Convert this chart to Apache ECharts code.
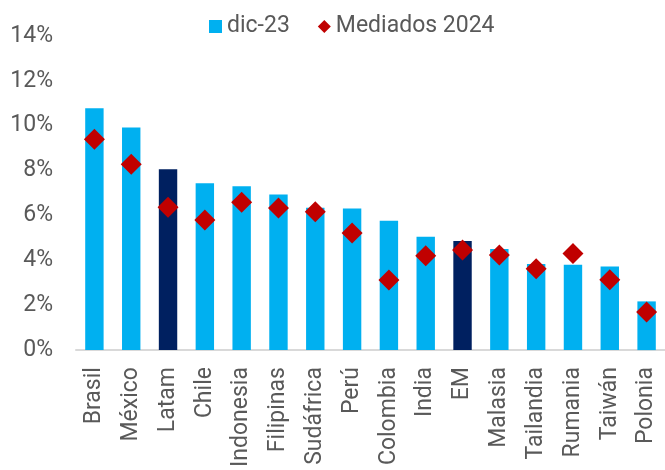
<!DOCTYPE html>
<html>
<head>
<meta charset="utf-8">
<script src="https://cdn.jsdelivr.net/npm/echarts@6/dist/echarts.min.js"></script>
<style>html,body{margin:0;padding:0;background:#fff;}#c{width:665px;height:470px;}</style>
</head>
<body>
<div id="c"></div>
<script>
const categories = ['Brasil','México','Latam','Chile','Indonesia','Filipinas','Sudáfrica','Perú','Colombia','India','EM','Malasia','Tailandia','Rumania','Taiwán','Polonia'];
const dic23 = [10.78, 9.92, 8.06, 7.44, 7.30, 6.93, 6.34, 6.31, 5.77, 5.05, 4.86, 4.51, 3.84, 3.80, 3.73, 2.17];
const mediados2024 = [9.40, 8.28, 6.37, 5.80, 6.59, 6.33, 6.17, 5.22, 3.12, 4.20, 4.46, 4.24, 3.63, 4.30, 3.14, 1.70];
const highlighted = ['Latam', 'EM'];
const yTicks = [0, 2, 4, 6, 8, 10, 12, 14];

const LIGHT = '#00B0F0', DARK = '#002060', RED = '#C00000', TXT = '#595959';
const chart = echarts.init(document.getElementById('c'), null, {renderer: 'canvas'});
chart.setOption({
  animation: false,
  textStyle: {fontFamily: 'Roboto'},
  legend: {
    top: 10, left: 204, itemGap: 28, itemWidth: 13, itemHeight: 13,
    textStyle: {fontSize: 23, color: TXT, fontFamily: 'Roboto'},
    data: [{name: 'dic-23', icon: 'rect'}, {name: 'Mediados 2024', icon: 'diamond'}]
  },
  grid: {left: 76, width: 591, top: 36, bottom: 117, containLabel: false},
  xAxis: {
    type: 'category', data: categories,
    axisLine: {lineStyle: {color: '#D9D9D9', width: 2}},
    axisTick: {show: false},
    axisLabel: {rotate: 90, fontSize: 23, color: TXT, margin: 17, fontFamily: 'Roboto', interval: 0}
  },
  yAxis: {
    type: 'value', min: yTicks[0], max: yTicks[yTicks.length - 1], interval: 2,
    splitLine: {show: false}, axisLine: {show: false}, axisTick: {show: false},
    axisLabel: {formatter: v => v + '%', fontSize: 23, color: TXT, margin: 23, fontFamily: 'Roboto'}
  },
  series: [
    {
      name: 'dic-23', type: 'bar', barWidth: '50%',
      itemStyle: {color: LIGHT},
      data: dic23.map((v, i) => ({value: v, itemStyle: {color: highlighted.includes(categories[i]) ? DARK : LIGHT}}))
    },
    {
      name: 'Mediados 2024', type: 'scatter', symbol: 'diamond', symbolSize: 21, z: 5,
      itemStyle: {color: RED, opacity: 1},
      data: mediados2024
    }
  ]
});
</script>
</body>
</html>
